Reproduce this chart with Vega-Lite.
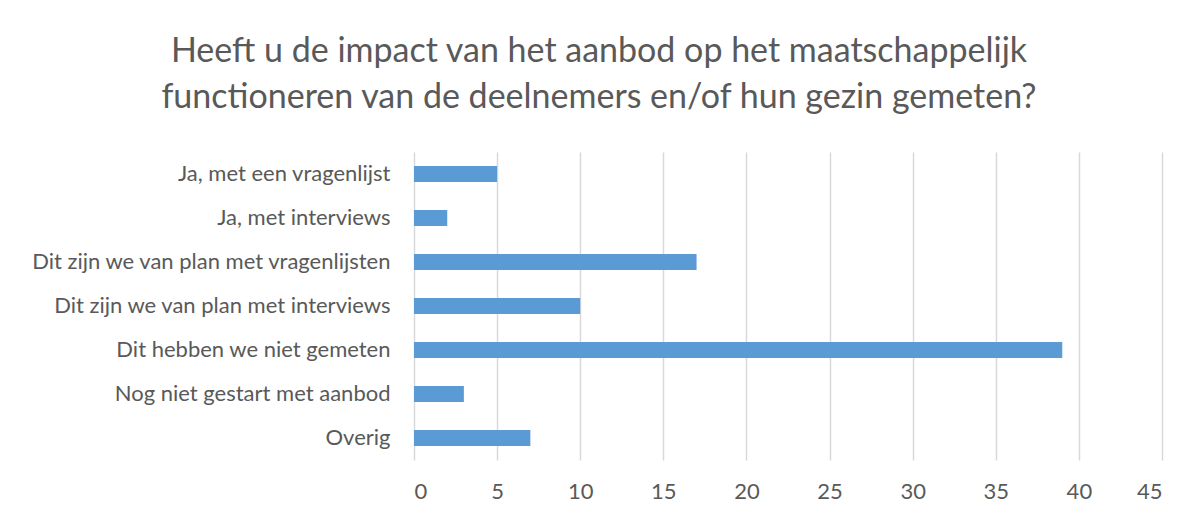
{
  "$schema": "https://vega.github.io/schema/vega-lite/v6.json",
  "autosize": {"type": "none"},
  "width": 748,
  "height": 308,
  "padding": {"left": 414, "top": 152, "right": 37, "bottom": 55},
  "background": "white",
  "title": {
    "text": ["Heeft u de impact van het aanbod op het maatschappelijk", "functioneren van de deelnemers en/of hun gezin gemeten?"],
    "font": "Lato",
    "fontSize": 34,
    "fontWeight": "normal",
    "color": "#595959",
    "lineHeight": 46,
    "anchor": "middle",
    "frame": "group",
    "dx": -189,
    "offset": 37
  },
  "data": {
    "values": [
      {"cat": "Ja, met een vragenlijst", "n": 5},
      {"cat": "Ja, met interviews", "n": 2},
      {"cat": "Dit zijn we van plan met vragenlijsten", "n": 17},
      {"cat": "Dit zijn we van plan met interviews", "n": 10},
      {"cat": "Dit hebben we niet gemeten", "n": 39},
      {"cat": "Nog niet gestart met aanbod", "n": 3},
      {"cat": "Overig", "n": 7}
    ]
  },
  "mark": {"type": "bar", "color": "#5b9bd5"},
  "encoding": {
    "y": {
      "field": "cat",
      "type": "nominal",
      "sort": null,
      "title": null,
      "scale": {"paddingInner": 0.636, "paddingOuter": 0.318},
      "axis": {
        "domain": false,
        "ticks": false,
        "grid": false,
        "labelPadding": 24,
        "labelFont": "Lato",
        "labelFontSize": 22,
        "labelColor": "#595959",
        "labelLimit": 0
      }
    },
    "x": {
      "field": "n",
      "type": "quantitative",
      "title": null,
      "scale": {"domain": [0, 45], "nice": false},
      "axis": {
        "values": [0, 5, 10, 15, 20, 25, 30, 35, 40, 45],
        "domain": false,
        "ticks": false,
        "grid": true,
        "gridColor": "#d9d9d9",
        "gridWidth": 1.5,
        "labelPadding": 21,
        "labelFont": "Lato",
        "labelFontSize": 22,
        "labelColor": "#595959"
      }
    }
  },
  "config": {"view": {"stroke": null}}
}
